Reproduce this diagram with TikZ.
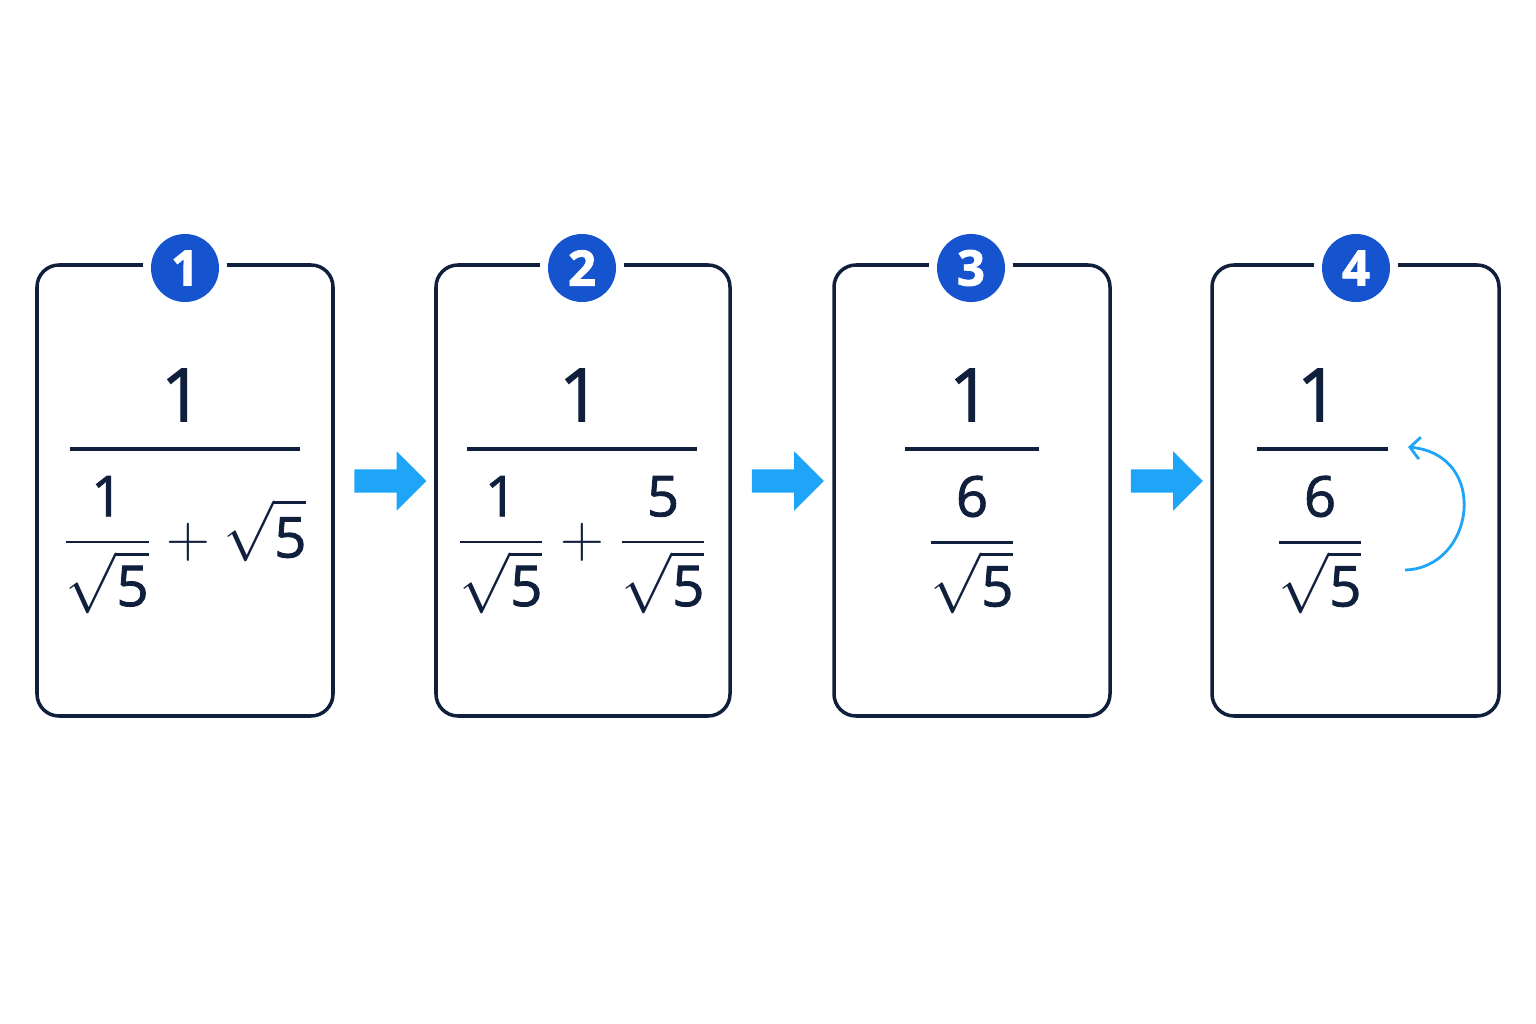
\documentclass[tikz,border=0pt]{standalone}
\usepackage{amsmath}
\usepackage{fontspec}
\setmainfont{Open Sans}[FakeBold=1.5]
\usetikzlibrary{shapes.arrows,calc,arrows.meta}
\definecolor{ink}{HTML}{10203C}
\definecolor{badge}{HTML}{1653CF}
\definecolor{sky}{HTML}{1EA5F8}
\tikzset{
  card/.style={draw=ink, line width=1pt, rounded corners=0.22cm},
  num/.style={text=ink, font=\fontsize{21}{24}\selectfont, inner sep=0pt},
  small/.style={text=ink, font=\fontsize{16}{19}\selectfont, inner sep=0pt},
  badgenum/.style={circle, fill=badge, minimum size=0.68cm, inner sep=0pt, text=white, font=\fontsize{14}{16}\selectfont\bfseries},
  flow/.style={single arrow, fill=sky, single arrow head extend=0.18cm, minimum height=0.72cm, inner sep=0pt, single arrow tip angle=90},
  bar/.style={ink, line width=1pt}
}
\begin{document}
\begin{tikzpicture}[x=0.01cm, y=-0.01cm]
  \useasboundingbox (0,0) rectangle (1536,1024);
  % cards and badges
  \foreach \i/\l/\r/\bx in {1/37/333/185, 2/436/730/582, 3/834/1110/971, 4/1212/1499/1356} {
    \draw [card] (\l,265) rectangle (\r,716);
    \coordinate (c\i) at (\l,481);
    \coordinate (d\i) at (\r,481);
    \fill [white] (\bx,268) circle (0.42cm);
    \node [badgenum] (b\i) at (\bx,268) {\i};
  }
  % arrows between cards
  \node [flow] (a1) at ($(d1)!0.5!(c2)$) {\rule{0pt}{0.22cm}};
  \node [flow] (a2) at ($(d2)!0.5!(c3)$) {\rule{0pt}{0.22cm}};
  \node [flow] (a3) at ($(d3)!0.5!(c4)$) {\rule{0pt}{0.22cm}};
  % card 1
  \node [num] (n1) at (182,395) {1};
  \draw [bar] (70,449) -- (300,449);
  \node [small] (m1) at (184,545) {$\displaystyle\frac{\text{1}}{\sqrt{\text{5}}}+\sqrt{\text{5}}$};
  % card 2
  \node [num] (n2) at (580,395) {1};
  \draw [bar] (467,449) -- (697,449);
  \node [small] (m2) at (582,545) {$\displaystyle\frac{\text{1}}{\sqrt{\text{5}}}+\frac{\text{5}}{\sqrt{\text{5}}}$};
  % card 3
  \node [num] (n3) at (970,395) {1};
  \draw [bar] (905,449) -- (1039,449);
  \node [small] (m3) at (972,545) {$\displaystyle\frac{\text{6}}{\sqrt{\text{5}}}$};
  % card 4
  \node [num] (n4) at (1318,395) {1};
  \draw [bar] (1257,449) -- (1388,449);
  \node [small] (m4) at (1320,545) {$\displaystyle\frac{\text{6}}{\sqrt{\text{5}}}$};
  \coordinate (s4) at (1405,570);
  \coordinate (e4) at (1408,447);
  \draw [sky, line width=0.8pt, -{Straight Barb[length=0.1cm, width=0.22cm]}] (s4) .. controls (1475,568) and (1490,455) .. (e4);
\end{tikzpicture}
\end{document}
